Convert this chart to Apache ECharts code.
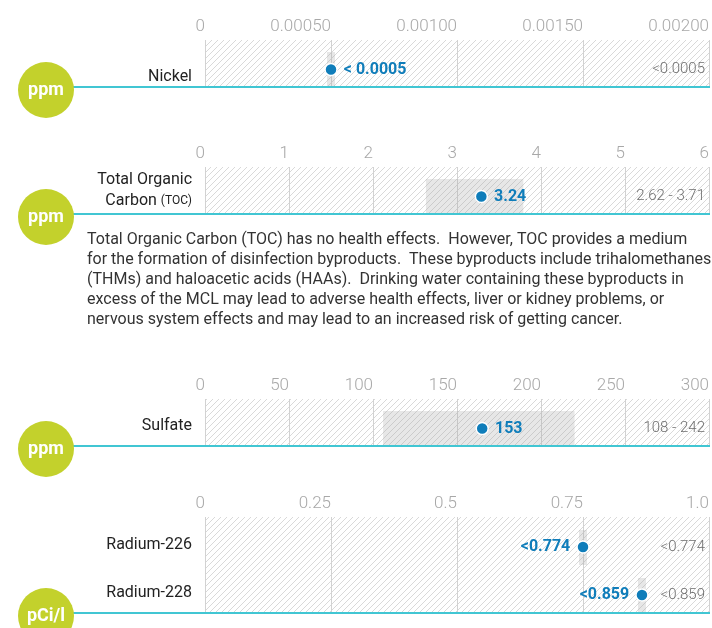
<!DOCTYPE html>
<html>
<head>
<meta charset="utf-8">
<script src="https://cdn.jsdelivr.net/npm/echarts@6/dist/echarts.min.js"></script>
<style>
  html, body { margin: 0; padding: 0; background: #fff; }
  #chart { width: 712px; height: 628px; }
</style>
</head>
<body>
<div id="chart"></div>
<script>
// ---- data ----
var nickelTicks = ['0', '0.00050', '0.00100', '0.00150', '0.00200'];
var nickelNames = ['Nickel'];
var nickelValues = [0.0005];
var nickelLow = [0.0005];
var nickelHigh = [0.0005];
var nickelLabels = ['< 0.0005'];
var nickelRanges = ['<0.0005'];

var tocTicks = ['0', '1', '2', '3', '4', '5', '6'];
var tocNames = ['Total Organic\nCarbon (TOC)'];
var tocValues = [3.29];
var tocLow = [2.63];
var tocHigh = [3.79];
var tocLabels = ['3.24'];
var tocRanges = ['2.62 - 3.71'];

var sulfateTicks = ['0', '50', '100', '150', '200', '250', '300'];
var sulfateNames = ['Sulfate'];
var sulfateValues = [165];
var sulfateLow = [106];
var sulfateHigh = [220];
var sulfateLabels = ['153'];
var sulfateRanges = ['108 - 242'];

var radiumTicks = ['0', '0.25', '0.5', '0.75', '1.0'];
var radiumNames = ['Radium-226', 'Radium-228'];
var radiumValues = [0.75, 0.867];
var radiumLow = [0.75, 0.867];
var radiumHigh = [0.75, 0.867];
var radiumLabels = ['<0.774', '<0.859'];
var radiumRanges = ['<0.774', '<0.859'];

var units = ['ppm', 'ppm', 'ppm', 'pCi/l'];

var tocNote = 'Total Organic Carbon (TOC) has no health effects.  However, TOC provides a medium\n' +
  'for the formation of disinfection byproducts.  These byproducts include trihalomethanes\n' +
  '(THMs) and haloacetic acids (HAAs).  Drinking water containing these byproducts in\n' +
  'excess of the MCL may lead to adverse health effects, liver or kidney problems, or\n' +
  'nervous system effects and may lead to an increased risk of getting cancer.';

var panels = [
  { ticks: nickelTicks, names: nickelNames, values: nickelValues, low: nickelLow, high: nickelHigh,
    labels: nickelLabels, ranges: nickelRanges, min: 0, max: 0.002, interval: 0.0005,
    top: 40, height: 47, side: 'right', shift: 13 },
  { ticks: tocTicks, names: tocNames, values: tocValues, low: tocLow, high: tocHigh,
    labels: tocLabels, ranges: tocRanges, min: 0, max: 6, interval: 1,
    top: 167, height: 47, side: 'right', shift: 0 },
  { ticks: sulfateTicks, names: sulfateNames, values: sulfateValues, low: sulfateLow, high: sulfateHigh,
    labels: sulfateLabels, ranges: sulfateRanges, min: 0, max: 300, interval: 50,
    top: 399, height: 47, side: 'right', shift: 3 },
  { ticks: radiumTicks, names: radiumNames, values: radiumValues, low: radiumLow, high: radiumHigh,
    labels: radiumLabels, ranges: radiumRanges, min: 0, max: 1, interval: 0.25,
    top: 517, height: 96, side: 'left', shift: 4 }
];

var FONT = 'Roboto';
var DOT = '#0f7dba';
var CYAN = '#41c6d3';
var LIME = '#c3d12c';
var ROW_H = 35;

// diagonal hatch used as plot background
var hatch = document.createElement('canvas');
hatch.width = 6;
hatch.height = 6;
(function() {
  var ctx = hatch.getContext('2d');
  ctx.fillStyle = '#fff';
  ctx.fillRect(0, 0, 6, 6);
  ctx.strokeStyle = '#d9d9d9';
  ctx.lineWidth = 1;
  ctx.beginPath();
  ctx.moveTo(-1, 7); ctx.lineTo(7, -1);
  ctx.moveTo(-1, 1); ctx.lineTo(1, -1);
  ctx.moveTo(5, 7); ctx.lineTo(7, 5);
  ctx.stroke();
})();

var chart = echarts.init(document.getElementById('chart'));

var grids = [], xAxes = [], yAxes = [], series = [], graphics = [];

panels.forEach(function(p, k) {
  grids.push({
    left: 205, width: 505, top: p.top, height: p.height,
    show: true, borderWidth: 0,
    backgroundColor: { image: hatch, repeat: 'repeat' }
  });

  xAxes.push({
    gridIndex: k, type: 'value', position: 'top',
    min: p.min, max: p.max, interval: p.interval,
    axisLine: { show: false }, axisTick: { show: false },
    splitLine: { show: true, lineStyle: { color: '#d2d2d2', width: 1 } },
    axisLabel: {
      align: 'right', margin: 5, color: '#a8a8a8',
      fontFamily: FONT, fontSize: 17, fontWeight: 300,
      formatter: function(v, i) { return p.ticks[i]; }
    }
  });

  var pad = p.shift >= 0 ? [p.shift * 2, 0, 0, 0] : [0, 0, -p.shift * 2, 0];
  yAxes.push({
    gridIndex: k, type: 'category', inverse: true, data: p.names,
    axisLine: { show: false }, axisTick: { show: false }, splitLine: { show: false },
    axisLabel: {
      margin: 13, align: 'right', color: '#222', fontFamily: FONT, fontSize: 16,
      lineHeight: 21, padding: pad,
      formatter: function(v) { return v.replace('(TOC)', '{s|(TOC)}'); },
      rich: { s: { fontSize: 12, fontFamily: FONT, color: '#222', lineHeight: 21 } }
    }
  });

  // range band + text at the right end
  series.push({
    type: 'custom', xAxisIndex: k, yAxisIndex: k, z: 2,
    data: p.names.map(function(n, i) { return [p.low[i], p.high[i], i]; }),
    encode: { x: [0, 1], y: 2 },
    renderItem: function(params, api) {
      var i = api.value(2);
      var lo = api.coord([api.value(0), i]);
      var hi = api.coord([api.value(1), i]);
      var bandH = api.size([0, 1])[1];
      var bottom = lo[1] + bandH / 2;
      var x0 = lo[0], x1 = hi[0];
      if (x1 - x0 < 8) {
        var c = (x0 + x1) / 2;
        x0 = c - 4; x1 = c + 4;
      }
      var cs = params.coordSys;
      return {
        type: 'group',
        children: [{
          type: 'rect',
          shape: { x: x0, y: bottom - ROW_H, width: x1 - x0, height: ROW_H },
          style: { fill: 'rgba(170,170,170,0.28)' }
        }, {
          type: 'text',
          style: {
            x: cs.x + cs.width - 4, y: bottom - ROW_H / 2,
            text: p.ranges[params.dataIndex],
            align: 'right', verticalAlign: 'middle',
            fill: '#6e6e6e', font: '300 15px ' + FONT
          }
        }]
      };
    }
  });

  // result dot
  series.push({
    type: 'scatter', xAxisIndex: k, yAxisIndex: k, z: 5,
    data: p.values.map(function(v, i) { return [v, i]; }),
    symbolSize: 12, symbolOffset: [0, 6],
    itemStyle: { color: DOT, borderColor: '#fff', borderWidth: 1.5, opacity: 1 },
    label: {
      show: true, position: p.side, distance: 6,
      color: DOT, fontFamily: FONT, fontWeight: 'bold', fontSize: 16,
      formatter: function(d) { return p.labels[d.dataIndex]; }
    },
    emphasis: { disabled: true }
  });

  // baseline and unit badge
  var baseY = p.top + p.height;
  graphics.push({
    type: 'line', z: 10,
    shape: { x1: 60, y1: baseY, x2: 710, y2: baseY },
    style: { stroke: CYAN, lineWidth: 2 }
  });
  graphics.push({
    type: 'circle', z: 11,
    shape: { cx: 46, cy: baseY + 3, r: 28 },
    style: { fill: LIME }
  });
  graphics.push({
    type: 'text', z: 12,
    style: {
      x: 46, y: baseY + 3, text: units[k], align: 'center', verticalAlign: 'middle',
      fill: '#fff', font: 'bold 18px ' + FONT
    }
  });
});

graphics.push({
  type: 'text', z: 10,
  style: {
    x: 87, y: 230, text: tocNote, fill: '#333',
    font: '16px ' + FONT, lineHeight: 20
  }
});

chart.setOption({
  animation: false,
  backgroundColor: '#fff',
  grid: grids,
  xAxis: xAxes,
  yAxis: yAxes,
  series: series,
  graphic: graphics
});
</script>
</body>
</html>
